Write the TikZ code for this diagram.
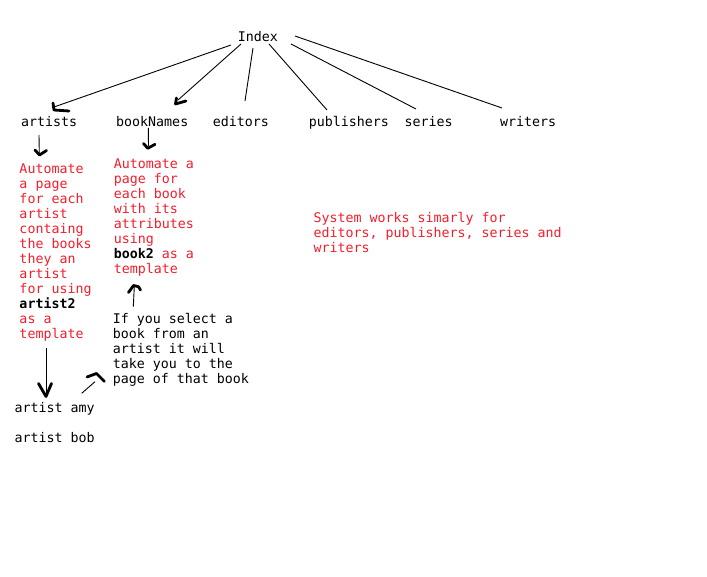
\documentclass[tikz,border=0pt]{standalone}
\usepackage{fontspec}
\newfontfamily\dvm{DejaVu Sans Mono}
\definecolor{notered}{RGB}{245,30,45}
\begin{document}
\begin{tikzpicture}[x=1pt,y=-1pt,
  txt/.style={font=\dvm\fontsize{13.3}{15}\selectfont, inner sep=0pt, anchor=base west, text=black, yshift=-1pt},
  rtxt/.style={txt, text=notered},
  conn/.style={line width=0.9pt, black},
  hook/.style={line width=2.8pt, line cap=round, line join=round, black}]
\useasboundingbox (0,0) rectangle (707,577);
\fill[white] (0,0) rectangle (707,577);

% top level
\node[txt] (idx) at (237.6,40.7) {Index};
\node[txt] (artists) at (21,125.7) {artists};
\node[txt] (booknames) at (116,125.7) {bookNames};
\node[txt] (editors) at (212.6,125.7) {editors};
\node[txt] (publishers) at (308.6,125.7) {publishers};
\node[txt] (series) at (404.3,125.7) {series};
\node[txt] (writers) at (500,125.7) {writers};

% column 1
\foreach \t [count=\i] in {Automate, a page, for each, artist, containg, the books, they an, artist, for using, {\textbf{\color{black}artist2}}, as a, template}
  \node[rtxt] (ca\i) at (19.3,{172.7+15*(\i-1)}) {\t};

% column 2
\foreach \t [count=\i] in {Automate a, page for, each book, with its, attributes, using, {\textbf{\color{black}book2} as a}, template}
  \node[rtxt] (cb\i) at (113.6,{167.4+15*(\i-1)}) {\t};

% black note
\foreach \t [count=\i] in {If you select a, book from an, artist it will, take you to the, page of that book}
  \node[txt] (bn\i) at (112.6,{322.3+15*(\i-1)}) {\t};

\node[txt] (amy) at (14.3,411.7) {artist amy};
\node[txt] (bob) at (14.3,441.7) {artist bob};

% system note
\foreach \t [count=\i] in {System works simarly for, {editors, publishers, series and}, writers}
  \node[rtxt] (sy\i) at (313.3,{221.7+15*(\i-1)}) {\t};

% connector end points
\coordinate (iA) at (231,45);   \coordinate (eA) at (54,107);
\coordinate (iB) at (241,44);   \coordinate (eB) at (178,100);
\coordinate (iE) at (253,48);   \coordinate (eE) at (245,101);
\coordinate (iP) at (269,44);   \coordinate (eP) at (327,110);
\coordinate (iS) at (291,44);   \coordinate (eS) at (416,109);
\coordinate (iW) at (295,36);   \coordinate (eW) at (502,108);
\coordinate (d1s) at (39,135);    \coordinate (d1e) at (39.3,153);
\coordinate (d2s) at (148.3,128); \coordinate (d2e) at (148.5,146);
\coordinate (u1s) at (133.3,306.7); \coordinate (u1e) at (134.3,287);
\coordinate (d3s) at (46.7,348);  \coordinate (d3e) at (46.7,396);
\coordinate (u2s) at (81.7,393.3); \coordinate (u2e) at (95,381.7);

% lines
\draw[conn] (iA) -- (eA);
\draw[conn] (iB) -- (eB);
\draw[conn] (iE) -- (eE);
\draw[conn] (iP) -- (eP);
\draw[conn] (iS) -- (eS);
\draw[conn] (iW) -- (eW);
\draw[conn] (d1s) -- (d1e);
\draw[conn] (d2s) -- (d2e);
\draw[conn] (u1s) -- (u1e);
\draw[conn] (d3s) -- (d3e);
\draw[conn] (u2s) -- (u2e);

% hand drawn heads
\draw[hook] (53,103) -- (54,110) -- (69,111);
\draw[hook] (176.5,98) -- (175.5,104) -- (186,101);
\draw[hook] (35,150) -- (39.5,155) -- (46.5,150.5);
\draw[hook] (143.5,143.5) -- (147.8,148.3) -- (155,144.3);
\draw[hook] (128.5,292.5) -- (133.5,285.5) -- (138.5,286.7) -- (140.5,290);
\draw[hook] (38.5,383.5) -- (46,396.5) -- (51.5,383.5);
\draw[hook] (87,377) -- (96.5,373.5) -- (104.5,381.5);
\end{tikzpicture}
\end{document}
